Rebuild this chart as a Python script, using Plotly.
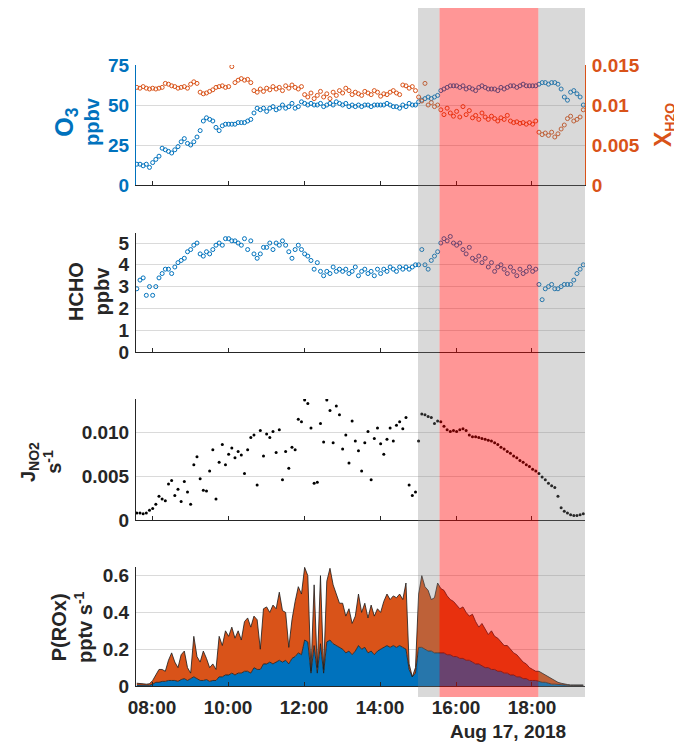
import pandas as pd
import plotly.graph_objects as go

# ---------------- data (5-minute samples from 07:36 to 19:21) ----------------
t_start = "2018-08-17 07:36"

o3 = [13, 13, 12, 13, 11,
      14, 16, 18, 23, 22, 21, 20, 22, 24, 27, 29, 26,
      25, 27, 30, 34, 40, 42, 41, 40, 36, 34, 37, 38,
      38, 38, 38, 39, 39, 39, 40, 41, 45, 48, 47, 48,
      46, 48, 49, 47, 48, 50, 48, 49, 51, 48, 49, 52,
      51, 50, 51, 50, 50, 51, 49, 50, 51, 50, 52, 51,
      50, 51, 49, 50, 49, 50, 49, 50, 50, 49, 50, 50,
      50, 50, 51, 50, 49, 49, 48, 50, 49, 51, 50, 50,
      52, 53, 54, 55, 54, 55, 56, 59, 60, 61, 62, 62,
      62, 61, 62, 60, 61, 60, 59, 61, 62, 61, 60, 60,
      60, 59, 61, 60, 61, 62, 62, 61, 62, 63, 62, 62,
      62, 62, 63, 64, 64, 63, 64, 64, 63, 60, 55, 53,
      58, 59, 57, 55, 50]

h2o = [0.0122, 0.0121, 0.0123, 0.0121, 0.0120,
       0.0121, 0.0120, 0.0121, 0.0122, 0.0127, 0.0126, 0.0124, 0.0123, 0.0121, 0.0122, 0.0123, 0.0121,
       0.0126, 0.0129, 0.0127, 0.0116, 0.0114, 0.0115, 0.0117, 0.0119, 0.0122, 0.0123, 0.0124, 0.0122,
       0.0123, 0.0148, 0.0128, 0.0131, 0.0133, 0.0131, 0.0132, 0.0128, 0.0118, 0.0116, 0.0120, 0.0117,
       0.0121, 0.0119, 0.0123, 0.0120, 0.0122, 0.0118, 0.0124, 0.0121, 0.0125, 0.0122, 0.0120, 0.0123,
       0.0113, 0.0110, 0.0115, 0.0108, 0.0112, 0.0117, 0.0110, 0.0114, 0.0108, 0.0116, 0.0112, 0.0118,
       0.0115, 0.0121, 0.0118, 0.0113, 0.0116, 0.0114, 0.0112, 0.0117, 0.0115, 0.0113, 0.0118, 0.0116,
       0.0111, 0.0114, 0.0113, 0.0116, 0.0118, 0.0115, 0.0113, 0.0125, 0.0124, 0.0121, 0.0123, 0.0118,
       0.0110, 0.0105, 0.0127, 0.0100, 0.0103, 0.0098, 0.0100, 0.0094, 0.0088, 0.0096, 0.0090, 0.0086,
       0.0092, 0.0085, 0.0098, 0.0088, 0.0093, 0.0084, 0.0087, 0.0082, 0.0090, 0.0085, 0.0082, 0.0086,
       0.0083, 0.0080, 0.0084, 0.0082, 0.0087, 0.0080, 0.0078, 0.0079, 0.0077, 0.0078, 0.0076, 0.0078,
       0.0076, 0.0080, 0.0066, 0.0063, 0.0065, 0.0062, 0.0066, 0.0060, 0.0064, 0.0070, 0.0075, 0.0083,
       0.0086, 0.0080, 0.0082, 0.0085, 0.0094]

hcho = [2.9, 3.3, 3.4, 2.6, 3.0,
        2.6, 3.0, 3.4, 3.6, 3.8, 3.8, 3.6, 3.9, 4.1, 4.2, 4.3, 4.6,
        4.7, 4.9, 5.0, 4.5, 4.4, 4.6, 4.5, 4.7, 4.9, 5.0, 4.9, 5.2,
        5.2, 5.1, 5.1, 5.0, 4.9, 5.2, 4.7, 5.1, 4.5, 4.3, 4.5, 4.8,
        4.8, 5.0, 4.7, 5.0, 4.9, 5.1, 4.9, 4.6, 4.3, 4.7, 4.9, 4.7,
        4.5, 4.4, 4.2, 3.8, 4.1, 3.7, 3.5, 3.7, 3.6, 3.9, 3.7, 3.8,
        3.7, 3.8, 3.6, 3.7, 3.9, 3.5, 3.7, 3.8, 3.6, 3.7, 3.5, 3.8,
        3.6, 3.8, 3.7, 3.9, 3.8, 3.7, 3.9, 3.8, 3.9, 3.8, 3.9, 4.0,
        4.0, 4.7, 4.0, 3.8, 4.2, 4.4, 4.6, 5.0, 5.2, 5.1, 5.3, 5.0,
        4.9, 5.0, 4.7, 4.5, 4.8, 4.3, 4.2, 4.4, 4.1, 4.3, 3.9, 4.1,
        3.7, 3.9, 4.0, 3.8, 3.6, 3.9, 3.7, 3.5, 3.8, 3.6, 3.7, 3.9,
        3.7, 3.8, 3.1, 2.4, 2.9, 3.0, 3.1, 2.9, 2.9, 3.0, 3.1, 3.1,
        3.1, 3.3, 3.6, 3.8, 4.0]

jno2 = [0.0008, 0.0008, 0.0007, 0.0008, 0.0011,
        0.0013, 0.0018, 0.0027, 0.0024, 0.0022, 0.0041, 0.0045, 0.0028, 0.0035, 0.0021, 0.0044, 0.0032,
        0.0018, 0.0063, 0.0072, 0.0047, 0.0034, 0.0033, 0.0056, 0.0080, 0.0024, 0.0066, 0.0086, 0.0063,
        0.0075, 0.0082, 0.0071, 0.0078, 0.0074, 0.0053, 0.0080, 0.0094, 0.0097, 0.0040, 0.0102, 0.0073,
        0.0098, 0.0094, 0.0101, 0.0077, 0.0103, 0.0046, 0.0078, 0.0059, 0.0083, 0.0080, 0.0115, 0.0112,
        0.0137, 0.0133, 0.0105, 0.0042, 0.0043, 0.0110, 0.0089, 0.0137, 0.0125, 0.0088, 0.0130, 0.0120,
        0.0081, 0.0097, 0.0065, 0.0113, 0.0090, 0.0079, 0.0056, 0.0088, 0.0101, 0.0046, 0.0093, 0.0105,
        0.0087, 0.0075, 0.0092, 0.0105, 0.0090, 0.0108, 0.0112, 0.0104, 0.0117, 0.0040, 0.0028, 0.0032,
        0.0090, 0.0121, 0.0120, 0.0118, 0.0117, 0.0110, 0.0113, 0.0112, 0.0107, 0.0103, 0.0101, 0.0102,
        0.0101, 0.0103, 0.0104, 0.0102, 0.0097, 0.0095, 0.0095, 0.0094, 0.0093, 0.0092, 0.0091, 0.0090,
        0.0088, 0.0086, 0.0083, 0.0081, 0.0078, 0.0076, 0.0073, 0.0071, 0.0068, 0.0066, 0.0063, 0.0061,
        0.0058, 0.0056, 0.0053, 0.0049, 0.0046, 0.0042, 0.0039, 0.0037, 0.0027, 0.0014, 0.0010, 0.0008,
        0.0006, 0.0005, 0.0005, 0.0006, 0.0007]

prox_total = [0.015, 0.015, 0.012, 0.010, 0.012,
              0.03, 0.06, 0.09, 0.09, 0.08, 0.14, 0.18, 0.13, 0.10, 0.17, 0.19, 0.10,
              0.07, 0.27, 0.16, 0.13, 0.19, 0.15, 0.10, 0.12, 0.09, 0.27, 0.22, 0.30,
              0.27, 0.32, 0.26, 0.30, 0.25, 0.35, 0.37, 0.32, 0.38, 0.36, 0.20, 0.42,
              0.43, 0.40, 0.44, 0.42, 0.51, 0.41, 0.40, 0.21, 0.36, 0.46, 0.54, 0.50,
              0.645, 0.60, 0.08, 0.55, 0.10, 0.60, 0.09, 0.57, 0.64, 0.55, 0.50, 0.45,
              0.45, 0.38, 0.42, 0.34, 0.38, 0.50, 0.40, 0.45, 0.37, 0.44, 0.38, 0.42,
              0.40, 0.46, 0.50, 0.47, 0.49, 0.48, 0.50, 0.47, 0.56, 0.12, 0.05, 0.10,
              0.50, 0.60, 0.54, 0.52, 0.47, 0.48, 0.56, 0.53, 0.52, 0.49, 0.47, 0.46,
              0.44, 0.42, 0.43, 0.40, 0.38, 0.39, 0.35, 0.32, 0.34, 0.31, 0.28, 0.30,
              0.27, 0.26, 0.24, 0.22, 0.22, 0.20, 0.18, 0.17, 0.15, 0.13, 0.12, 0.10,
              0.09, 0.08, 0.08, 0.07, 0.06, 0.05, 0.04, 0.03, 0.02, 0.015, 0.010, 0.008,
              0.006, 0.005, 0.004, 0.005, 0.006]

prox_blue = [0.005, 0.005, 0.004, 0.003, 0.004,
             0.01, 0.02, 0.02, 0.025, 0.025, 0.03, 0.03, 0.03, 0.025, 0.035, 0.04, 0.03,
             0.04, 0.05, 0.04, 0.03, 0.03, 0.035, 0.025, 0.03, 0.03, 0.05, 0.05, 0.06,
             0.06, 0.07, 0.06, 0.07, 0.07, 0.08, 0.08, 0.07, 0.10, 0.09, 0.09, 0.12,
             0.12, 0.13, 0.12, 0.13, 0.14, 0.13, 0.14, 0.12, 0.15, 0.16, 0.18, 0.17,
             0.25, 0.24, 0.07, 0.22, 0.07, 0.23, 0.07, 0.24, 0.25, 0.23, 0.22, 0.21,
             0.20, 0.18, 0.19, 0.17, 0.19, 0.22, 0.20, 0.21, 0.18, 0.19, 0.17, 0.19,
             0.20, 0.21, 0.22, 0.21, 0.22, 0.21, 0.22, 0.21, 0.20, 0.09, 0.05, 0.07,
             0.21, 0.21, 0.20, 0.19, 0.19, 0.18, 0.18, 0.18, 0.18, 0.17, 0.17, 0.16,
             0.16, 0.15, 0.15, 0.14, 0.14, 0.13, 0.12, 0.12, 0.11, 0.10, 0.10, 0.09,
             0.09, 0.08, 0.08, 0.07, 0.07, 0.06, 0.06, 0.05, 0.05, 0.04, 0.04, 0.03,
             0.03, 0.03, 0.025, 0.02, 0.02, 0.015, 0.01, 0.01, 0.008, 0.006, 0.005, 0.004,
             0.003, 0.003, 0.002, 0.002, 0.003]

# shaded periods
gray_periods = [("2018-08-17 15:00", "2018-08-17 15:34"), ("2018-08-17 18:10", "2018-08-17 19:24")]
red_periods = [("2018-08-17 15:34", "2018-08-17 18:10")]

# tick labels
o3_ticks = [0, 25, 50, 75]
h2o_ticks = [0, 0.005, 0.01, 0.015]
h2o_ticktext = ["0", "0.005", "0.01", "0.015"]
hcho_ticks = [0, 1, 2, 3, 4, 5]
j_ticks = [0, 0.005, 0.010]
j_ticktext = ["0", "0.005", "0.010"]
p_ticks = [0, 0.2, 0.4, 0.6]
p_ticktext = ["0", "0.2", "0.4", "0.6"]

times = pd.date_range(t_start, periods=len(o3), freq="5min")

# ---------------- styling ----------------
BLUE = "#0072BD"
ORANGE = "#D95319"
DARK = "#262626"
GRID = "#DADADA"
FONT = "Liberation Sans, Arial, Helvetica, sans-serif"

# the page body adds an 8px offset; the figure is sized to end at the window edge
OFF = 8
W, H = 682 - OFF, 742 - OFF
ML, MR, MT, MB = 136 - OFF, 97, 0, 45
PW = W - ML - MR
PH = H - MT - MB
PAPER_BOTTOM = OFF + H - MB  # page pixel of paper bottom


def py(px):  # page pixel y -> paper y
    return (PAPER_BOTTOM - px) / PH


def pxx(px):  # page pixel x -> paper x
    return (px - (OFF + ML)) / PW


fig = go.Figure()

fig.add_trace(go.Scatter(x=times, y=h2o, mode="markers", xaxis="x", yaxis="y5",
                         marker=dict(symbol="circle-open", size=4, color=ORANGE, line=dict(width=1)),
                         showlegend=False))
fig.add_trace(go.Scatter(x=times, y=o3, mode="markers", xaxis="x", yaxis="y",
                         marker=dict(symbol="circle-open", size=4, color=BLUE, line=dict(width=1)),
                         showlegend=False))
fig.add_trace(go.Scatter(x=times, y=hcho, mode="markers", xaxis="x2", yaxis="y2",
                         marker=dict(symbol="circle-open", size=4, color=BLUE, line=dict(width=1)),
                         showlegend=False))
fig.add_trace(go.Scatter(x=times, y=jno2, mode="markers", xaxis="x3", yaxis="y3",
                         marker=dict(symbol="circle", size=3, color="black"),
                         showlegend=False))
fig.add_trace(go.Scatter(x=times, y=prox_blue, mode="lines", xaxis="x4", yaxis="y4",
                         line=dict(color="#1a1a1a", width=0.8), fill="tozeroy", fillcolor=BLUE,
                         showlegend=False))
fig.add_trace(go.Scatter(x=times, y=prox_total, mode="lines", xaxis="x4", yaxis="y4",
                         line=dict(color="#1a1a1a", width=0.8), fill="tonexty", fillcolor=ORANGE,
                         showlegend=False))

x_range = ["2018-08-17 07:34:42", "2018-08-17 19:23:42"]
xcommon = dict(type="date", range=x_range, tickformat="%H:%M", dtick=7200000,
               tick0="2018-08-17 08:00", ticks="inside", ticklen=4, tickcolor=DARK,
               showline=True, linecolor=DARK, linewidth=1, showgrid=False, zeroline=False,
               automargin=False,
               tickfont=dict(family=FONT, size=19, color=DARK, weight="bold"))

ycommon = dict(showgrid=True, gridcolor=GRID, gridwidth=1, zeroline=False, showline=True,
               linecolor=DARK, linewidth=1, ticks="", ticklabelstandoff=2, automargin=False,
               tickfont=dict(family=FONT, size=19, color=DARK, weight="bold"))

dom1 = [py(185), py(65)]
dom2 = [py(352), py(233)]
dom3 = [py(520), py(399)]
dom4 = [py(686), py(567)]

fig.update_layout(
    width=W, height=H,
    margin=dict(l=ML, r=MR, t=MT, b=MB, pad=0),
    paper_bgcolor="white", plot_bgcolor="white",
    font=dict(family=FONT, color=DARK),
    showlegend=False,
    xaxis=dict(**xcommon, anchor="y", showticklabels=False),
    xaxis2=dict(**xcommon, anchor="y2", matches="x", showticklabels=False),
    xaxis3=dict(**xcommon, anchor="y3", matches="x", showticklabels=False),
    xaxis4=dict(**xcommon, anchor="y4", matches="x", showticklabels=True, ticklabelstandoff=4),
    yaxis=dict(**{**ycommon, "linecolor": BLUE,
                  "tickfont": dict(family=FONT, size=19, color=BLUE, weight="bold")},
               domain=dom1, anchor="x", range=[0, 75], tickvals=o3_ticks),
    yaxis5=dict(overlaying="y", side="right", anchor="x", range=[0, 0.015], showgrid=False,
                zeroline=False, showline=True, linecolor=ORANGE, linewidth=1, ticks="",
                tickvals=h2o_ticks, ticktext=h2o_ticktext, ticklabelstandoff=2, automargin=False,
                tickfont=dict(family=FONT, size=19, color=ORANGE, weight="bold")),
    yaxis2=dict(**ycommon, domain=dom2, anchor="x2", range=[0, 5.46], tickvals=hcho_ticks),
    yaxis3=dict(**ycommon, domain=dom3, anchor="x3", range=[0, 0.0138], tickvals=j_ticks,
                ticktext=j_ticktext),
    yaxis4=dict(**ycommon, domain=dom4, anchor="x4", range=[0, 0.647], tickvals=p_ticks,
                ticktext=p_ticktext),
)

shapes = []
for a, b in gray_periods:
    shapes.append(dict(type="rect", xref="x", yref="paper", x0=a, x1=b, y0=0, y1=1,
                       fillcolor="rgb(128,128,128)", opacity=0.3, line=dict(width=0), layer="above"))
for a, b in red_periods:
    shapes.append(dict(type="rect", xref="x", yref="paper", x0=a, x1=b, y0=0, y1=1,
                       fillcolor="rgb(255,0,0)", opacity=0.41, line=dict(width=0), layer="above"))
fig.update_layout(shapes=shapes)

title_font = dict(family=FONT, size=20, weight="bold")
ann = [
    dict(text="<span style='font-size:25px'>O<sub>3</sub></span><br>ppbv", x=pxx(77), y=py(122), color=BLUE),
    dict(text="HCHO<br>ppbv", x=pxx(89), y=py(292), color=DARK),
    dict(text="J<sub>NO2</sub><br>s<sup>-1</sup>", x=pxx(41), y=py(462), color=DARK),
    dict(text="P(ROx)<br>pptv s<sup>-1</sup>", x=pxx(72), y=py(627), color=DARK),
    dict(text="<span style='font-size:23px'>X</span><sub>H2O</sub>", x=pxx(664), y=py(125), color=ORANGE),
]
annotations = []
for a in ann:
    annotations.append(dict(text=a["text"], x=a["x"], y=a["y"], xref="paper", yref="paper",
                            xanchor="center", yanchor="middle", textangle=-90, showarrow=False,
                            align="center", font=dict(**title_font, color=a["color"])))
annotations.append(dict(text="Aug 17, 2018", x=pxx(508), y=py(732), xref="paper", yref="paper",
                        xanchor="center", yanchor="middle", showarrow=False,
                        font=dict(family=FONT, size=19, weight="bold", color=DARK)))
fig.update_layout(annotations=annotations)

fig.write_html("out.html")
